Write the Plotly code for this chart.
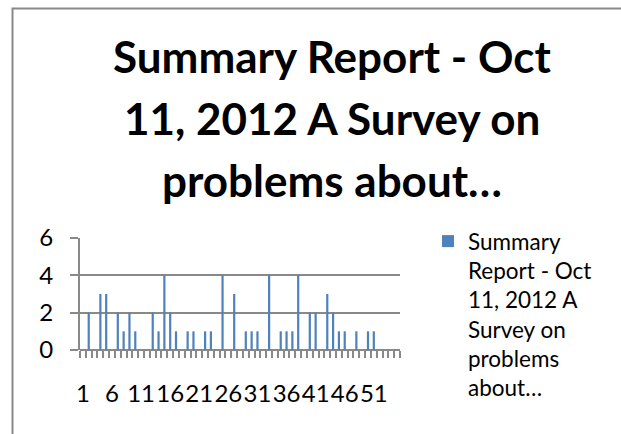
import plotly.graph_objects as go

# Survey responses per question number
categories = list(range(1, 56))
values = [0, 2, 0, 3, 3, 0, 2, 1, 2, 1,
          0, 0, 2, 1, 4, 2, 1, 0, 1, 1,
          0, 1, 1, 0, 4, 0, 3, 0, 1, 1,
          1, 0, 4, 0, 1, 1, 1, 4, 0, 2,
          2, 0, 3, 2, 1, 1, 0, 1, 0, 1,
          1, 0, 0, 0, 0]
x_tick_vals = [1, 6, 11, 16, 21, 26, 31, 36, 41, 46, 51]
x_tick_text = [str(v) for v in x_tick_vals]
y_tick_vals = [0, 2, 4, 6]
title_lines = ["Summary Report - Oct", "11, 2012 A Survey on", "problems about…"]
series_name = "Summary<br>Report - Oct<br>11, 2012 A<br>Survey on<br>problems<br>about…"

W, H = 621, 434
L, R, T, B = 80, 221, 238, 84
pw, ph = W - L - R, H - T - B


def px_x(p):
    return (p - L) / pw


def px_y(p):
    return (H - B - p) / ph


FONT = "Lato, Calibri, sans-serif"
GRID = "#898989"

fig = go.Figure(
    go.Bar(
        x=categories,
        y=values,
        name=series_name,
        marker=dict(color="#4F81BD", line=dict(width=0)),
        width=0.38,
        showlegend=True,
    )
)

# frame around the chart
fig.add_shape(
    type="rect", xref="paper", yref="paper",
    x0=px_x(12.5), x1=px_x(680), y0=px_y(8.5), y1=px_y(480),
    line=dict(color=GRID, width=2), fillcolor="rgba(0,0,0,0)", layer="below",
)

# title, one line per annotation
for i, line in enumerate(title_lines):
    fig.add_annotation(
        text=f"<b>{line}</b>", xref="paper", yref="paper",
        x=px_x(332), y=px_y(56 + 62 * i), xanchor="center", yanchor="middle",
        showarrow=False, font=dict(family=FONT, size=44, color="black"),
    )

fig.update_layout(
    width=W, height=H,
    margin=dict(l=L, r=R, t=T, b=B, pad=0),
    paper_bgcolor="white", plot_bgcolor="white",
    bargap=0.6,
    showlegend=True,
    legend=dict(
        x=px_x(428), y=px_y(220), xanchor="left", yanchor="top",
        font=dict(family=FONT, size=22.5, color="black"),
        valign="top", itemwidth=30, tracegroupgap=0,
        bgcolor="rgba(0,0,0,0)",
    ),
    xaxis=dict(
        type="linear", range=[0.5, 55.5],
        tickmode="array", tickvals=x_tick_vals, ticktext=x_tick_text,
        ticks="", showgrid=False, zeroline=False,
        showline=False, tickangle=0,
        ticklabelstandoff=27,
        tickfont=dict(family=FONT, size=24, color="black"),
        minor=dict(ticks="outside", tick0=0.5, dtick=1, ticklen=7,
                   tickwidth=2, tickcolor=GRID, showgrid=False),
    ),
    yaxis=dict(
        range=[0, 6], tickmode="array", tickvals=y_tick_vals,
        showgrid=True, gridcolor=GRID, gridwidth=2,
        zeroline=True, zerolinecolor=GRID, zerolinewidth=2,
        showline=True, linecolor=GRID, linewidth=2,
        ticks="outside", ticklen=8, tickwidth=2, tickcolor=GRID,
        ticklabelstandoff=12,
        tickfont=dict(family=FONT, size=24, color="black"),
    ),
)

fig.write_html("out.html")
